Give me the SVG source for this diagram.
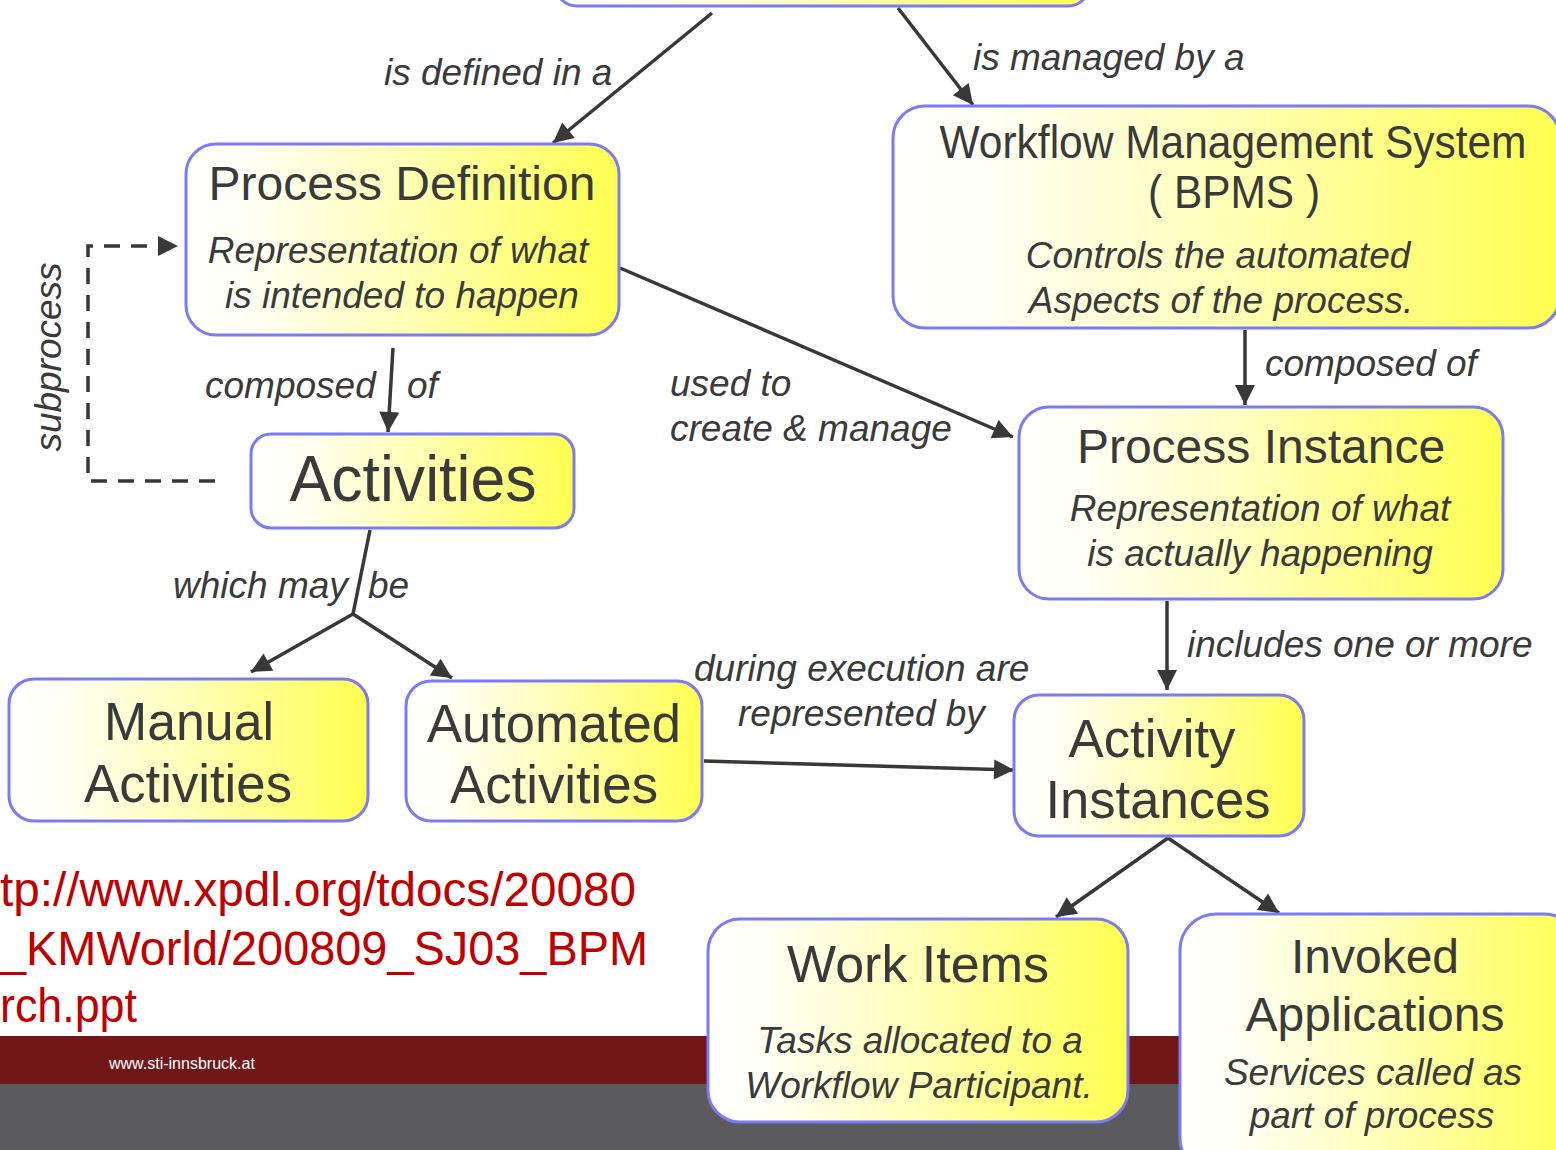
<svg xmlns="http://www.w3.org/2000/svg" width="1556" height="1150" viewBox="0 0 1556 1150">
<defs>
<linearGradient id="g" x1="0" y1="0" x2="1" y2="0">
<stop offset="0" stop-color="#ffffff"/>
<stop offset="0.15" stop-color="#fffff4"/>
<stop offset="0.5" stop-color="#ffffb8"/>
<stop offset="0.85" stop-color="#ffff70"/>
<stop offset="1" stop-color="#ffff50"/>
</linearGradient>
<marker id="ah" viewBox="0 0 10 10" refX="10" refY="5" markerWidth="22" markerHeight="20" markerUnits="userSpaceOnUse" orient="auto">
<path d="M0,0 L10,5 L0,10 z" fill="#383838"/>
</marker>
<style>
.box{fill:url(#g);stroke:#7b7bf7;stroke-width:3}
.t{font-family:"Liberation Sans",Arial,sans-serif;fill:#3a3a3a;text-anchor:middle}
.i{font-family:"Liberation Sans",Arial,sans-serif;font-style:italic;fill:#3a3a3a;font-size:37px}
.c{fill:none;stroke:#383838;stroke-width:3.5}
.a{marker-end:url(#ah)}
</style>
</defs>
<rect width="1556" height="1150" fill="#ffffff"/>
<g id="footer">
<rect x="0" y="1036" width="1556" height="48" fill="#711718"/>
<rect x="0" y="1084" width="1556" height="66" fill="#5b5b5d"/>
<text x="109" y="1069" font-family="Liberation Sans,Arial,sans-serif" font-size="16" fill="#ffffff">www.sti-innsbruck.at</text>
</g>
<g id="url" font-family="Liberation Sans,Arial,sans-serif" font-size="48" fill="#c00000">
<text x="0" y="906" textLength="636" lengthAdjust="spacingAndGlyphs">tp://www.xpdl.org/tdocs/20080</text>
<text x="0" y="965" textLength="648" lengthAdjust="spacingAndGlyphs">_KMWorld/200809_SJ03_BPM</text>
<text x="0" y="1022" textLength="137" lengthAdjust="spacingAndGlyphs">rch.ppt</text>
</g>
<g id="connectors">
<line class="c a" x1="712" y1="13" x2="553" y2="143"/>
<line class="c a" x1="898" y1="8" x2="973" y2="105"/>
<line class="c a" x1="393" y1="348" x2="388" y2="432"/>
<polyline class="c a" points="215,481 88,481 88,246 178,246" stroke-dasharray="16,11" stroke-width="3"/>
<line class="c a" x1="620" y1="268" x2="1013" y2="437"/>
<line class="c a" x1="1245" y1="330" x2="1245" y2="405"/>
<polyline class="c" points="370,530 353,614"/>
<line class="c a" x1="353" y1="614" x2="251" y2="672"/>
<line class="c a" x1="353" y1="614" x2="452" y2="678"/>
<line class="c a" x1="1167" y1="601" x2="1167" y2="690"/>
<line class="c a" x1="704" y1="761" x2="1014" y2="770"/>
<line class="c a" x1="1168" y1="838" x2="1056" y2="917"/>
<line class="c a" x1="1168" y1="838" x2="1279" y2="913"/>
<text class="i" x="384" y="85">is defined in a</text>
<text class="i" x="973" y="70">is managed by a</text>
<text class="i" x="205" y="398">composed</text>
<text class="i" x="407" y="398">of</text>
<text class="i" x="670" y="396">used to</text>
<text class="i" x="670" y="441">create &amp; manage</text>
<text class="i" x="1265" y="376">composed of</text>
<text class="i" x="173" y="598">which may</text>
<text class="i" x="368" y="598">be</text>
<text class="i" x="1187" y="657">includes one or more</text>
<text class="i" x="694" y="681">during execution are</text>
<text class="i" x="738" y="726">represented by</text>
<text class="i" transform="translate(61,357) rotate(-90)" text-anchor="middle">subprocess</text>
</g>
<g id="top-node">
<rect class="box" x="555" y="-40" width="535" height="46" rx="22"/>
</g>
<g id="process-definition">
<rect class="box" x="186" y="144" width="433" height="191" rx="30"/>
<text class="t" x="402" y="200" font-size="48">Process Definition</text>
<text class="i" x="398" y="263" text-anchor="middle">Representation of what</text>
<text class="i" x="402" y="308" text-anchor="middle">is intended to happen</text>
</g>
<g id="wms">
<rect class="box" x="893" y="106" width="667" height="222" rx="32"/>
<text class="t" x="1233" y="158" font-size="46" textLength="587" lengthAdjust="spacingAndGlyphs">Workflow Management System</text>
<text class="t" x="1234" y="208" font-size="46" textLength="172" lengthAdjust="spacingAndGlyphs">( BPMS )</text>
<text class="i" x="1218" y="268" text-anchor="middle">Controls the automated</text>
<text class="i" x="1221" y="313" text-anchor="middle">Aspects of the process.</text>
</g>
<g id="activities">
<rect class="box" x="251" y="434" width="323" height="94" rx="20"/>
<text class="t" x="413" y="501" font-size="64" textLength="247" lengthAdjust="spacingAndGlyphs">Activities</text>
</g>
<g id="process-instance">
<rect class="box" x="1019" y="407" width="484" height="192" rx="30"/>
<text class="t" x="1261" y="463" font-size="48">Process Instance</text>
<text class="i" x="1260" y="521" text-anchor="middle">Representation of what</text>
<text class="i" x="1260" y="566" text-anchor="middle">is actually happening</text>
</g>
<g id="manual-activities">
<rect class="box" x="9" y="679" width="359" height="142" rx="25"/>
<text class="t" x="189" y="740" font-size="54" textLength="170" lengthAdjust="spacingAndGlyphs">Manual</text>
<text class="t" x="188" y="802" font-size="54" textLength="208" lengthAdjust="spacingAndGlyphs">Activities</text>
</g>
<g id="automated-activities">
<rect class="box" x="406" y="681" width="296" height="140" rx="25"/>
<text class="t" x="554" y="742" font-size="54" textLength="254" lengthAdjust="spacingAndGlyphs">Automated</text>
<text class="t" x="554" y="803" font-size="54" textLength="208" lengthAdjust="spacingAndGlyphs">Activities</text>
</g>
<g id="activity-instances">
<rect class="box" x="1014" y="695" width="290" height="141" rx="25"/>
<text class="t" x="1152" y="757" font-size="54" textLength="167" lengthAdjust="spacingAndGlyphs">Activity</text>
<text class="t" x="1158" y="818" font-size="54" textLength="225" lengthAdjust="spacingAndGlyphs">Instances</text>
</g>
<g id="work-items">
<rect class="box" x="708" y="919" width="420" height="203" rx="32"/>
<text class="t" x="918" y="982" font-size="52">Work Items</text>
<text class="i" x="920" y="1053" text-anchor="middle">Tasks allocated to a</text>
<text class="i" x="919" y="1098" text-anchor="middle">Workflow Participant.</text>
</g>
<g id="invoked-applications">
<rect class="box" x="1180" y="914" width="400" height="260" rx="36"/>
<text class="t" x="1375" y="973" font-size="48">Invoked</text>
<text class="t" x="1375" y="1031" font-size="48">Applications</text>
<text class="i" x="1373" y="1085" text-anchor="middle">Services called as</text>
<text class="i" x="1372" y="1128" text-anchor="middle">part of process</text>
</g>
</svg>
